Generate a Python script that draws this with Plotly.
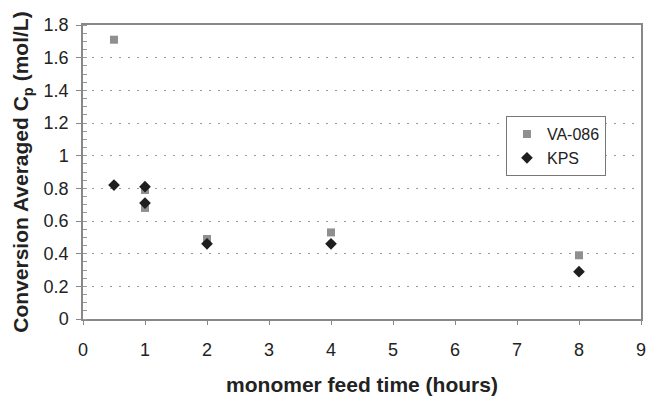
import plotly.graph_objects as go

va_x = [0.5, 1, 1, 2, 4, 8]
va_y = [1.71, 0.79, 0.68, 0.49, 0.53, 0.39]
kps_x = [0.5, 1, 1, 2, 4, 8]
kps_y = [0.82, 0.81, 0.71, 0.46, 0.46, 0.29]

x_ticks = [0, 1, 2, 3, 4, 5, 6, 7, 8, 9]
y_ticks = [0, 0.2, 0.4, 0.6, 0.8, 1.0, 1.2, 1.4, 1.6, 1.8]
y_labels = ["0", "0.2", "0.4", "0.6", "0.8", "1", "1.2", "1.4", "1.6", "1.8"]

fig = go.Figure()
fig.add_trace(go.Scatter(x=va_x, y=va_y, mode="markers", name="VA-086",
                         marker=dict(symbol="square", size=8, color="#8f8f8f")))
fig.add_trace(go.Scatter(x=kps_x, y=kps_y, mode="markers", name="KPS",
                         marker=dict(symbol="diamond", size=9, color="#1e1e1e")))

font = "Liberation Sans, Arial, sans-serif"
fig.update_layout(
    width=647, height=405,
    margin=dict(l=83, r=6, t=25, b=86),
    paper_bgcolor="white", plot_bgcolor="white",
    font=dict(family=font, size=18, color="#222"),
    showlegend=True,
    legend=dict(x=0.758, y=0.69, xanchor="left", yanchor="top",
                bordercolor="#777", borderwidth=1, bgcolor="white",
                font=dict(size=16, color="#222"),
                itemwidth=30, tracegroupgap=0),
    xaxis=dict(range=[0, 9], tickvals=x_ticks, showgrid=False, zeroline=False,
               showline=True, linecolor="#888", linewidth=1.5, mirror=True,
               ticks="outside", ticklen=4, tickcolor="#888",
               ticklabelstandoff=10, automargin=False,
               tickfont=dict(size=18),
               title=dict(text="<b>monomer feed time (hours)</b>", font=dict(size=21), standoff=18)),
    yaxis=dict(range=[0, 1.8], tickvals=y_ticks, ticktext=y_labels,
               showgrid=True, gridcolor="#999999", griddash="2px,7px", gridwidth=1,
               zeroline=False, showline=True, linecolor="#888", linewidth=1.5, mirror=True,
               ticks="outside", ticklen=5, tickcolor="#888",
               ticklabelstandoff=4, automargin=False,
               tickfont=dict(size=18),
               minor=dict(dtick=0.05, ticks="inside", ticklen=4, tickcolor="#999", showgrid=False),
               title=dict(text="<b>Conversion Averaged C<sub>p</sub> (mol/L)</b>", font=dict(size=21), standoff=9)),
)

fig.write_html("out.html", config={"displayModeBar": False},
               post_script="document.body.style.margin='0';document.body.style.overflow='hidden';")
